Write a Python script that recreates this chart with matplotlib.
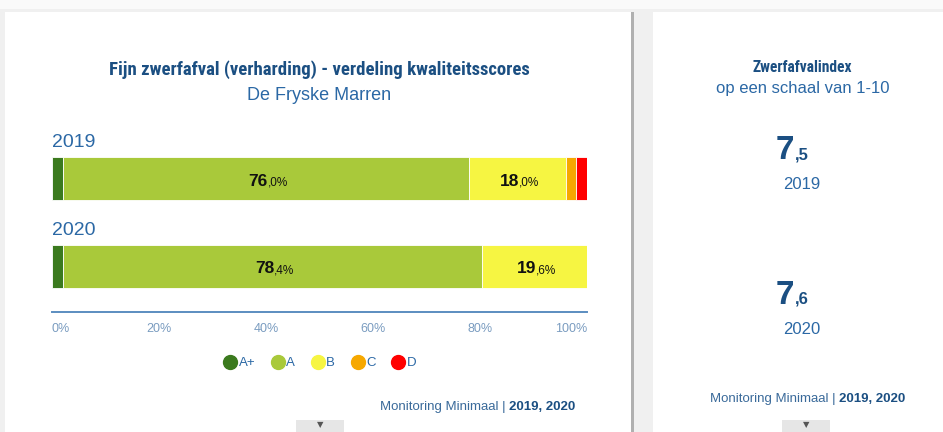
import matplotlib.pyplot as plt
from matplotlib.patches import Rectangle
from matplotlib import font_manager
import numpy as np

# data
years = ['2019', '2020']
classes = ['A+', 'A', 'B', 'C', 'D']
colors = ['#3b7a1e', '#a9c93a', '#f6f542', '#f6a800', '#ff0000']
shares = {
    '2019': [2.0, 76.0, 18.0, 2.0, 2.0],
    '2020': [2.0, 78.4, 19.6, 0.0, 0.0],
}
index_vals = ['7,5', '7,6']
xticks = [0, 20, 40, 60, 80, 100]

W, H = 943, 432
DARK = '#1b4f82'
MID = '#2b68a5'
LIGHT = '#7a9cc0'
SANS = ['Liberation Sans', 'DejaVu Sans']

# pick a narrow face for the headings if there is one
installed = {f.name for f in font_manager.fontManager.ttflist}
NARROW = SANS
for cand in ['Liberation Sans Narrow', 'Roboto Condensed', 'Open Sans Condensed',
             'DejaVu Sans Condensed']:
    if cand in installed:
        NARROW = [cand, 'DejaVu Sans']
        break


def fx(px):
    return px / W


def fy(py):
    return 1 - py / H


def fit_width(txt, width_px):
    # shrink a heading until it spans width_px
    r = fig.canvas.get_renderer()
    w = txt.get_window_extent(renderer=r).width
    txt.set_fontsize(txt.get_fontsize() * width_px / w)


fig = plt.figure(figsize=(W / 100, H / 100), dpi=100)
fig.patch.set_facecolor('#f0f0f0')

# cards
fig.patches.append(Rectangle((fx(0), fy(9)), 1, 9 / H, transform=fig.transFigure,
                             facecolor='#fafafa', edgecolor='none', zorder=0))
fig.patches.append(Rectangle((fx(7), fy(432)), fx(627), 420 / H, transform=fig.transFigure,
                             facecolor='#b0b0b0', edgecolor='none', zorder=0))
fig.patches.append(Rectangle((fx(5), fy(432)), fx(626), 420 / H, transform=fig.transFigure,
                             facecolor='white', edgecolor='none', zorder=1))
fig.patches.append(Rectangle((fx(653), fy(432)), fx(290), 420 / H, transform=fig.transFigure,
                             facecolor='white', edgecolor='none', zorder=1))
# tabs at the bottom
for cx in [320, 806]:
    fig.patches.append(Rectangle((fx(cx - 24), 0), fx(48), 12 / H, transform=fig.transFigure,
                                 facecolor='#e6e6e6', edgecolor='none', zorder=2))
    fig.text(fx(cx), fy(425), '\u25bc', color='#555555', fontsize=6,
             ha='center', va='center', zorder=3)

# titles left
t1 = fig.text(fx(319), fy(70), 'Fijn zwerfafval (verharding) - verdeling kwaliteitsscores',
              family=NARROW, fontweight='bold', fontsize=12, color=DARK,
              ha='center', va='center')
fit_width(t1, 422)
fig.text(fx(319), fy(95), 'De Fryske Marren', family=SANS, fontsize=13,
         color=MID, ha='center', va='center')

# bar chart
ax = fig.add_axes([fx(52), fy(312), fx(535), (312 - 157) / H])
ax.set_zorder(5)
ax.set_facecolor('none')
ypos = np.arange(len(years))
bh = 0.49
for i, yr in enumerate(years):
    left = 0
    for j, v in enumerate(shares[yr]):
        if v > 0:
            ax.barh(ypos[i], v, left=left, height=bh, color=colors[j],
                    edgecolor='white', linewidth=0.6)
        if v >= 10:
            whole, frac = f'{v:.1f}'.split('.')
            cx = left + v / 2 + 0.3
            ax.text(cx, ypos[i] + 0.08, whole, ha='right', va='baseline', fontsize=12.5,
                    fontweight='bold', family=SANS, color='#111111')
            ax.text(cx, ypos[i] + 0.08, ',' + frac + '%', ha='left', va='baseline',
                    fontsize=8.5, family=SANS, color='#111111')
        left += v
    ax.text(0, ypos[i] - bh / 2 - 0.07, yr, ha='left', va='bottom', fontsize=14,
            family=SANS, color=MID)

ax.set_xlim(0, 100)
ax.set_ylim(1 + bh / 2 + 0.273, -bh / 2)
ax.set_yticks([])
ax.set_xticks(xticks)
ax.set_xticklabels([f'{t}%' for t in xticks], family=SANS, fontsize=9, color=LIGHT)
labs = ax.get_xticklabels()
labs[0].set_ha('left')
labs[-1].set_ha('right')
ax.tick_params(axis='x', length=0, pad=8)
for s in ['top', 'left', 'right']:
    ax.spines[s].set_visible(False)
ax.spines['bottom'].set_color('#5b8dc0')
ax.spines['bottom'].set_linewidth(1.4)

# legend
handles = [plt.Line2D([], [], marker='o', linestyle='none', markersize=10,
                      markerfacecolor=c, markeredgecolor=c) for c in colors]
leg = fig.legend(handles, classes, loc='center', bbox_to_anchor=(fx(320), fy(363)),
                 ncol=5, frameon=False, handletextpad=0.15, columnspacing=1.2,
                 handlelength=1.0, prop={'family': SANS, 'size': 9.5})
leg.set_zorder(6)
for t in leg.get_texts():
    t.set_color(MID)

# footer left
fig.text(fx(509), fy(407), 'Monitoring Minimaal | ', family=SANS, fontsize=9.5,
         color='#3a6a9a', ha='right', va='center')
fig.text(fx(509), fy(407), '2019, 2020', family=SANS, fontsize=9.5, fontweight='bold',
         color=DARK, ha='left', va='center')

# right panel
t2 = fig.text(fx(802), fy(67), 'Zwerfafvalindex', family=NARROW, fontweight='bold',
              fontsize=11, color=DARK, ha='center', va='center')
fit_width(t2, 100)
fig.text(fx(803), fy(88), 'op een schaal van 1-10', family=SANS, fontsize=12,
         color=MID, ha='center', va='center')
for i, (yr, val) in enumerate(zip(years, index_vals)):
    base = 159 + i * 145
    whole, frac = val.split(',')
    fig.text(fx(794), fy(base), whole, family=SANS, fontweight='bold', fontsize=24,
             color=DARK, ha='right', va='baseline')
    fig.text(fx(795), fy(base), ',' + frac, family=SANS, fontweight='bold',
             fontsize=12, color=DARK, ha='left', va='baseline')
    fig.text(fx(802), fy(base + 26), yr, family=SANS, fontsize=12, color=MID,
             ha='center', va='center')

fig.text(fx(839), fy(399), 'Monitoring Minimaal | ', family=SANS, fontsize=9.5,
         color='#3a6a9a', ha='right', va='center')
fig.text(fx(839), fy(399), '2019, 2020', family=SANS, fontsize=9.5, fontweight='bold',
         color=DARK, ha='left', va='center')

fig.savefig('out.png', dpi=100, facecolor=fig.get_facecolor())
